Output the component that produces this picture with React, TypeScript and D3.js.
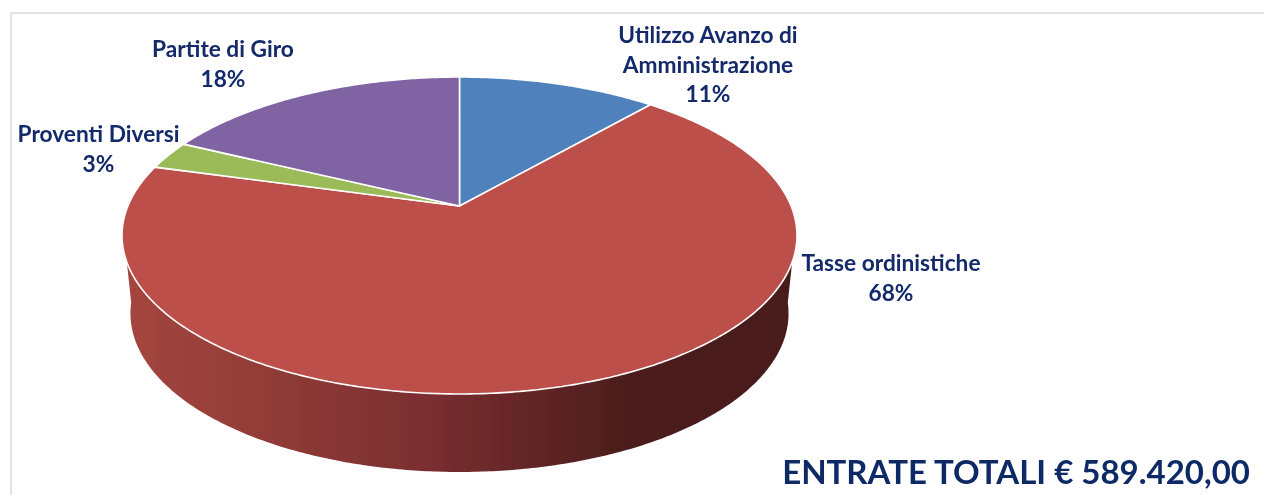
import React from "react";
import * as d3 from "d3";

const categories = ["Utilizzo Avanzo di Amministrazione", "Tasse ordinistiche", "Proventi Diversi", "Partite di Giro"];
const values = [11.4, 67.9, 2.9, 17.8];
const colors = ["#4f81bd", "#bd4f4c", "#9bbb59", "#8064a2"];
const labelLines = [["Utilizzo Avanzo di", "Amministrazione"], ["Tasse ordinistiche"], ["Proventi Diversi"], ["Partite di Giro"]];
const labelAnchors = [[708, 43], [891, 271], [98.5, 142], [223, 57]];
const totalLabel = "ENTRATE TOTALI € 589.420,00";
const wallStops = [
  [0, "#a5463f"], [0.25, "#8d3a36"], [0.45, "#7a2e31"], [0.6, "#632626"], [0.76, "#4b1d1c"], [1, "#4a1d1c"],
];

const W = 1264, H = 495;
const cx = 459.5, apexY = 206, A = 331.6, B = 153, k = -0.186;

const project = (a: number): [number, number] => {
  const u = Math.sin(a), v = -Math.cos(a), d = 1 + k * v;
  return [cx + (A * u) / d, apexY + (B * v) / d];
};

const line = d3.line();
const arcPoints = (a0: number, a1: number) => {
  const n = Math.max(2, Math.ceil(Math.abs(a1 - a0) / 0.01));
  return d3.range(n + 1).map((i) => project(a0 + ((a1 - a0) * i) / n));
};

export default function App() {
  const pie = d3.pie<number>().sort(null)(values);

  const wallA0 = (3 * Math.PI) / 2 - 0.12;
  const wallA1 = Math.PI / 2 + 0.12;
  const topEdge = arcPoints(wallA1, wallA0);
  const bottomEdge: [number, number][] = topEdge
    .slice()
    .reverse()
    .map(([x, y]) => [cx + (x - cx) * 0.975, y + 78] as [number, number]);
  const wall = line([...topEdge, ...bottomEdge])! + "Z";

  return (
    <svg width={W} height={H} style={{ position: "absolute", left: 0, top: 0, background: "#fff" }}>
      <defs>
        <linearGradient id="wallGrad" gradientUnits="userSpaceOnUse" x1={122} x2={797} y1={0} y2={0}>
          {wallStops.map(([o, c]) => (
            <stop key={o as number} offset={o as number} stopColor={c as string} />
          ))}
        </linearGradient>
        <filter id="soft" x="0" y="0" width="100%" height="100%" filterUnits="userSpaceOnUse">
          <feGaussianBlur stdDeviation={0.45} />
        </filter>
      </defs>
      <g filter="url(#soft)">
        <rect x={11} y={13} width={W + 20} height={H + 20} fill="none" stroke="#e2e2e2" strokeWidth={2} />
        <path d={wall} fill="url(#wallGrad)" />
        {pie.map((s, i) => (
          <path
            key={categories[i]}
            d={line([[cx, apexY], ...arcPoints(s.startAngle, s.endAngle)])! + "Z"}
            fill={colors[i]}
            stroke="#fff"
            strokeWidth={1.6}
            strokeLinejoin="round"
          />
        ))}
        <g fontFamily="Lato, sans-serif" fontWeight={700} fill="#12296b" fontSize={22.7} textAnchor="middle">
          {labelLines.map((lines, i) => (
            <text key={categories[i]} x={labelAnchors[i][0]} y={labelAnchors[i][1]}>
              {lines.map((l, j) => (
                <tspan key={j} x={labelAnchors[i][0]} dy={j === 0 ? 0 : 29.5}>{l}</tspan>
              ))}
              <tspan x={labelAnchors[i][0]} dy={29.5}>{Math.round(values[i])}%</tspan>
            </text>
          ))}
          <text x={1250} y={484} textAnchor="end" fontSize={33} fill="#0e2a66">{totalLabel}</text>
        </g>
      </g>
    </svg>
  );
}
